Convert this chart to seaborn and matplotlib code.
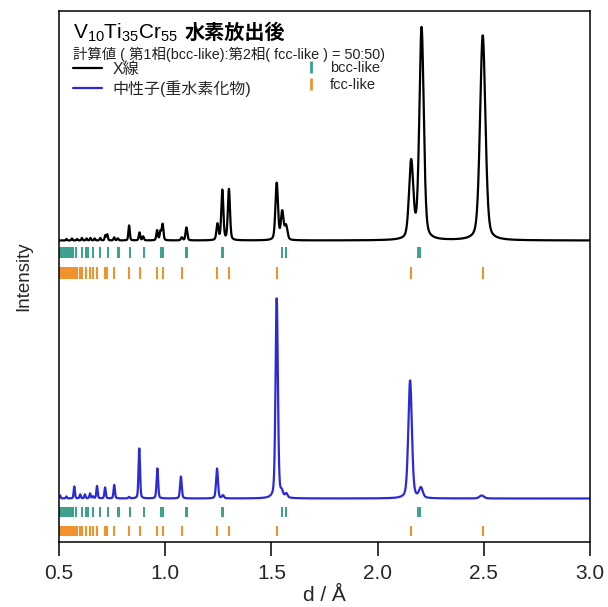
import numpy as np
import pandas as pd
import matplotlib
matplotlib.use("Agg")
import matplotlib.pyplot as plt
from matplotlib.lines import Line2D
import seaborn as sns

# ---- data -------------------------------------------------------------
# X-ray pattern: peak positions d (Å) and peak heights (arb. units)
xray_d = [0.535, 0.561, 0.585, 0.608, 0.630, 0.648, 0.668, 0.694, 0.718, 0.727,
          0.760, 0.777, 0.830, 0.879, 0.896, 0.962, 0.978, 0.988, 1.078, 1.100,
          1.246, 1.269, 1.300, 1.525, 1.551, 1.569, 2.158, 2.207, 2.495]
xray_h = [1.5, 2.0, 1.5, 2.5, 2.0, 2.5, 2.0, 2.5, 5.0, 6.0,
          3.0, 2.0, 15.0, 8.0, 4.0, 10.0, 9.0, 16.0, 3.0, 13.0,
          16.0, 50.0, 51.0, 57.0, 28.0, 14.0, 77.0, 212.0, 205.0]

# neutron pattern (deuteride)
neutron_d = [0.505, 0.535, 0.572, 0.600, 0.622, 0.646, 0.660, 0.679, 0.717, 0.760,
             0.830, 0.878, 0.963, 1.074, 1.244, 1.272, 1.525, 1.549, 1.570, 2.153,
             2.204, 2.490]
neutron_h = [3.0, 2.0, 12.0, 4.0, 4.0, 5.0, 2.0, 12.5, 11.0, 13.5,
             1.5, 50.0, 30.0, 22.0, 30.0, 3.0, 200.0, 5.0, 4.0, 118.0,
             10.0, 3.0]

# calculated reflection positions (Å)
bcc_d = [0.503, 0.509, 0.516, 0.522, 0.529, 0.535, 0.542, 0.548, 0.555, 0.561,
         0.568, 0.579, 0.607, 0.628, 0.638, 0.661, 0.693, 0.730, 0.776, 0.783,
         0.832, 0.898, 0.978, 0.988, 1.098, 1.103, 1.267, 1.274, 1.550, 1.568,
         2.188, 2.201]
fcc_d = [0.500, 0.505, 0.510, 0.516, 0.521, 0.524, 0.528, 0.535, 0.540, 0.548,
         0.556, 0.562, 0.570, 0.577, 0.584, 0.599, 0.606, 0.625, 0.648, 0.659,
         0.680, 0.718, 0.727, 0.761, 0.829, 0.880, 0.962, 0.990, 1.078, 1.246,
         1.302, 1.525, 2.158, 2.495]

x_ticks = [0.5, 1.0, 1.5, 2.0, 2.5, 3.0]

# ---- layout constants -------------------------------------------------
XRAY_BASE = 301.5
NEUT_BASE = 43.5
BCC_ROWS = [(284.0, 295.0), (25.5, 35.5)]
FCC_ROWS = [(263.5, 275.0), (6.0, 16.0)]

BLUE = "#2b2bd6"
TEAL = "#3aa08c"
ORANGE = "#f0922e"


def pseudo_voigt(x, d0, h, fwhm, eta=0.35):
    g = np.exp(-4 * np.log(2) * ((x - d0) / fwhm) ** 2)
    l = 1.0 / (1.0 + (2 * (x - d0) / fwhm) ** 2)
    return h * ((1 - eta) * g + eta * l)


def pattern(x, ds, hs, w0, w2):
    y = np.zeros_like(x)
    for d0, h in zip(ds, hs):
        y += pseudo_voigt(x, d0, h, w0 + w2 * d0 ** 2)
    return y


sns.set_theme(style="white")
plt.rcParams["font.family"] = ["Liberation Sans", "Noto Sans CJK JP"]
plt.rcParams["mathtext.fontset"] = "custom"
plt.rcParams["mathtext.rm"] = "Liberation Sans"
plt.rcParams["mathtext.it"] = "Liberation Sans"

d_grid = np.linspace(0.5, 3.0, 4001)
df = pd.DataFrame({
    "d": np.concatenate([d_grid, d_grid]),
    "I": np.concatenate([
        XRAY_BASE + pattern(d_grid, xray_d, xray_h, 0.005, 0.004),
        NEUT_BASE + pattern(d_grid, neutron_d, neutron_h, 0.006, 0.003),
    ]),
    "kind": ["X線"] * len(d_grid) + ["中性子(重水素化物)"] * len(d_grid),
})

fig = plt.figure(figsize=(6.08, 6.07), dpi=100)
ax = fig.add_axes([59 / 608, 1 - 542 / 607, 531 / 608, 531 / 607])

sns.lineplot(data=df, x="d", y="I", hue="kind",
             palette={"X線": "black", "中性子(重水素化物)": BLUE},
             estimator=None, sort=False, lw=1.6, legend=False, ax=ax)

for (b0, b1), (f0, f1) in zip(BCC_ROWS, FCC_ROWS):
    ax.vlines(bcc_d, b0, b1, color=TEAL, lw=1.4)
    ax.vlines(fcc_d, f0, f1, color=ORANGE, lw=1.5)

ax.set_xlim(0.5, 3.0)
ax.set_ylim(0, 531)
ax.set_xticks(x_ticks)
ax.set_xticklabels([f"{t:.1f}" for t in x_ticks])
ax.set_yticks([])
ax.set_xlabel("d / Å", fontsize=15, labelpad=2)
ax.set_ylabel("Intensity", fontsize=13.5, labelpad=19)
ax.tick_params(axis="x", direction="out", length=10, width=1.1,
               labelsize=15, pad=6, bottom=True, color="black")
for sp in ax.spines.values():
    sp.set_color("black")
    sp.set_linewidth(1.1)

# title lines
fig.text(73 / 608, 1 - 38.5 / 607, r"V$_{10}$Ti$_{35}$Cr$_{55}$", fontsize=15,
         color="black", va="baseline")
fig.text(185 / 608, 1 - 38.5 / 607, "水素放出後", fontsize=14.5,
         fontweight="bold", color="black", va="baseline")
fig.text(73 / 608, 1 - 59 / 607,
         "計算値 ( 第1相(bcc-like):第2相( fcc-like ) = 50:50)",
         fontsize=10.4, color="#222222", va="baseline")

line_handles = [Line2D([], [], color="black", lw=1.6, label="X線"),
                Line2D([], [], color=BLUE, lw=1.6, label="中性子(重水素化物)")]
leg1 = ax.legend(handles=line_handles, loc="upper left",
                 bbox_to_anchor=(14 / 531, (542 - 62) / 531), frameon=False,
                 fontsize=11.5, handlelength=1.8, handletextpad=0.7,
                 labelspacing=0.2, borderpad=0, borderaxespad=0)
ax.add_artist(leg1)

tick_handles = [Line2D([], [], color=TEAL, marker="|", ls="none", ms=9, mew=2,
                       label="bcc-like"),
                Line2D([], [], color=ORANGE, marker="|", ls="none", ms=9, mew=2,
                       label="fcc-like")]
ax.legend(handles=tick_handles, loc="upper left",
          bbox_to_anchor=(246 / 531, (542 - 61) / 531), frameon=False,
          fontsize=10.5, handlelength=0.8, handletextpad=0.9,
          labelspacing=0.2, borderpad=0, borderaxespad=0)

fig.savefig("out.png", dpi=100)
